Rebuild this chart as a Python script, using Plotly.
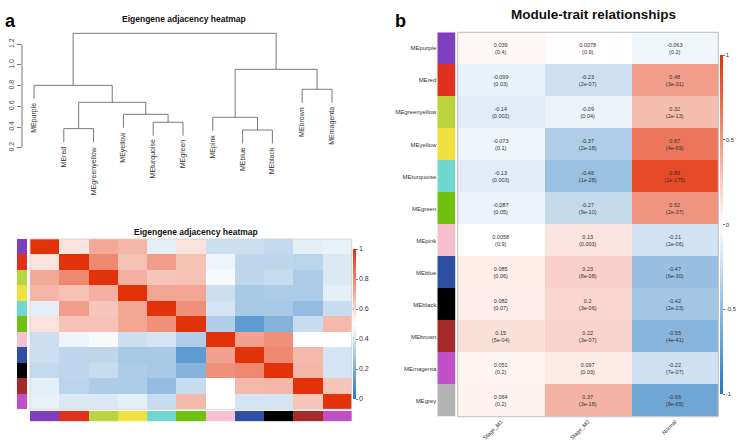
import plotly.graph_objects as go

W, H = 746, 446


def px(x):
    return x / W


def py(y):
    return 1 - y / H


FONT = "Liberation Sans"

# ---------------- data ----------------
modules = ["MEpurple", "MEred", "MEgreenyellow", "MEyellow", "MEturquoise", "MEgreen",
           "MEpink", "MEblue", "MEblack", "MEbrown", "MEmagenta"]
module_colors = ["#7E3FBF", "#E0301E", "#B9D43C", "#F0E040", "#70D8D0", "#70C010",
                 "#F8C0CF", "#2E4FA3", "#000000", "#A52A2A", "#BF50C8"]

# dendrogram merges (R hclust style: negative = leaf position, positive = earlier merge)
merge_left = [-8, -2, -5, -7, -4, 2, -10, -1, 4, 8]
merge_right = [-9, -3, -6, 1, 3, 5, -11, 6, 7, 9]
merge_height = [0.371, 0.384, 0.446, 0.494, 0.523, 0.639, 0.765, 0.803, 0.958, 1.306]
leaf_hang = 0.13
dend_ticks = [0.2, 0.4, 0.6, 0.8, 1.0, 1.2]

adjacency = [
    [1.00, 0.57, 0.71, 0.68, 0.44, 0.57, 0.38, 0.38, 0.36, 0.44, 0.45],
    [0.57, 1.00, 0.79, 0.65, 0.74, 0.65, 0.46, 0.35, 0.35, 0.34, 0.42],
    [0.71, 0.79, 1.00, 0.69, 0.64, 0.65, 0.48, 0.35, 0.37, 0.31, 0.42],
    [0.68, 0.65, 0.69, 1.00, 0.72, 0.72, 0.38, 0.30, 0.31, 0.31, 0.44],
    [0.44, 0.74, 0.64, 0.72, 1.00, 0.77, 0.40, 0.30, 0.30, 0.25, 0.37],
    [0.57, 0.65, 0.65, 0.72, 0.77, 1.00, 0.32, 0.13, 0.22, 0.37, 0.67],
    [0.38, 0.46, 0.48, 0.38, 0.40, 0.32, 1.00, 0.73, 0.77, 0.50, 0.50],
    [0.38, 0.35, 0.35, 0.30, 0.30, 0.13, 0.73, 1.00, 0.79, 0.67, 0.40],
    [0.36, 0.35, 0.37, 0.31, 0.30, 0.22, 0.77, 0.79, 1.00, 0.68, 0.40],
    [0.44, 0.34, 0.31, 0.31, 0.25, 0.37, 0.50, 0.67, 0.68, 1.00, 0.64],
    [0.45, 0.42, 0.42, 0.44, 0.37, 0.67, 0.50, 0.40, 0.40, 0.64, 1.00],
]
adj_ticks = [0, 0.2, 0.4, 0.6, 0.8, 1]

traits = ["Stage_M1", "Stage_M0", "Normal"]
trait_modules = modules + ["MEgrey"]
trait_colors = module_colors + ["#B3B3B3"]
cor_vals = [
    [0.039, 0.0078, -0.063],
    [-0.099, -0.23, 0.48],
    [-0.14, -0.09, 0.32],
    [-0.073, -0.37, 0.67],
    [-0.13, -0.46, 0.89],
    [-0.087, -0.27, 0.52],
    [0.0058, 0.13, -0.21],
    [0.085, 0.23, -0.47],
    [0.082, 0.2, -0.42],
    [0.15, 0.22, -0.55],
    [0.051, 0.097, -0.22],
    [0.064, 0.37, -0.66],
]
p_labels = [
    ["0.4", "0.9", "0.2"],
    ["0.03", "2e-07", "3e-31"],
    ["0.002", "0.04", "2e-13"],
    ["0.1", "2e-18", "4e-69"],
    ["0.003", "1e-28", "2e-175"],
    ["0.05", "9e-10", "2e-37"],
    ["0.9", "0.003", "2e-06"],
    ["0.06", "8e-08", "6e-30"],
    ["0.07", "3e-06", "2e-23"],
    ["5e-04", "3e-07", "4e-41"],
    ["0.2", "0.03", "7e-07"],
    ["0.2", "3e-18", "9e-65"],
]
cor_ticks = [-1, -0.5, 0, 0.5, 1]

# ---------------- styles ----------------
bwr = [[0.0, "#2678C1"], [0.5, "#FFFFFF"], [1.0, "#E2320A"]]


def stepped(colors):
    n = len(colors)
    cs = []
    for k, c in enumerate(colors):
        cs.append([k / n, c])
        cs.append([(k + 1) / n, c])
    return cs


fig = go.Figure()

# ---------------- dendrogram ----------------
mx, lx, ly = [], [], []
for k in range(len(merge_height)):
    h = merge_height[k]
    pts = []
    for c in (merge_left[k], merge_right[k]):
        if c < 0:
            pts.append((-c, h - leaf_hang))
        else:
            pts.append((mx[c - 1], merge_height[c - 1]))
    (x1, h1), (x2, h2) = pts
    lx += [x1, x1, x2, x2, None]
    ly += [h1, h, h, h2, None]
    mx.append((x1 + x2) / 2)

fig.add_trace(go.Scatter(x=lx, y=ly, mode="lines", line=dict(color="#6a6a6a", width=0.9),
                         xaxis="x", yaxis="y", showlegend=False, hoverinfo="skip"))

leaf_end = {}
for k in range(len(merge_height)):
    for c in (merge_left[k], merge_right[k]):
        if c < 0:
            leaf_end[-c] = merge_height[k] - leaf_hang

annotations = []
for i, name in enumerate(modules):
    annotations.append(dict(x=i + 1, y=leaf_end[i + 1], xref="x", yref="y", text=name,
                            textangle=-90, showarrow=False, xanchor="center", yanchor="top",
                            yshift=-2, font=dict(family=FONT, size=7, color="#333")))

shapes = [dict(type="line", xref="x domain", yref="y", x0=0, x1=0, y0=dend_ticks[0],
               y1=dend_ticks[-1], line=dict(color="#555", width=0.8))]

# ---------------- panel a heatmap ----------------
idx = list(range(len(modules)))
fig.add_trace(go.Heatmap(z=adjacency, x=idx, y=idx, xaxis="x2", yaxis="y2",
                         colorscale=bwr, zmin=0, zmax=1, hoverinfo="skip",
                         colorbar=dict(x=px(352.5), xanchor="left", xpad=0, ypad=0,
                                       y=py(324), yanchor="middle", lenmode="pixels", len=150,
                                       thickness=3, outlinewidth=0, ticks="outside", ticklen=2,
                                       tickcolor="#777", tickvals=adj_ticks,
                                       ticktext=[str(t) for t in adj_ticks],
                                       tickfont=dict(family=FONT, size=7, color="#333"))))
fig.add_trace(go.Heatmap(z=[[i + 0.5] for i in idx], x=[0], y=idx, xaxis="x3", yaxis="y2",
                         colorscale=stepped(module_colors), zmin=0, zmax=len(modules),
                         showscale=False, hoverinfo="skip"))
fig.add_trace(go.Heatmap(z=[[i + 0.5 for i in idx]], x=idx, y=[0], xaxis="x2", yaxis="y3",
                         colorscale=stepped(module_colors), zmin=0, zmax=len(modules),
                         showscale=False, hoverinfo="skip"))
shapes.append(dict(type="rect", xref="x2 domain", yref="y2 domain", x0=0, x1=1, y0=0, y1=1,
                   line=dict(color="#cfcfcf", width=0.8)))

# ---------------- panel b heatmap ----------------
cell_text = [[f"{c}<br>({p})" for c, p in zip(rc, rp)] for rc, rp in zip(cor_vals, p_labels)]
fig.add_trace(go.Heatmap(z=cor_vals, x=traits, y=trait_modules, xaxis="x4", yaxis="y4",
                         colorscale=bwr, zmin=-1, zmax=1, text=cell_text,
                         texttemplate="%{text}", hoverinfo="skip",
                         textfont=dict(family=FONT, size=5.5, color="#333"),
                         colorbar=dict(x=px(720.3), xanchor="left", xpad=0, ypad=0,
                                       y=py(224.5), yanchor="middle", lenmode="pixels", len=339,
                                       thickness=3, outlinewidth=0, ticks="outside", ticklen=2,
                                       tickcolor="#777", tickvals=cor_ticks,
                                       ticktext=[str(t) for t in cor_ticks],
                                       tickfont=dict(family=FONT, size=6, color="#333"))))
tidx = list(range(len(trait_modules)))
fig.add_trace(go.Heatmap(z=[[i + 0.5] for i in tidx], x=[0], y=trait_modules, xaxis="x5",
                         yaxis="y4", colorscale=stepped(trait_colors), zmin=0,
                         zmax=len(trait_modules), showscale=False, hoverinfo="skip"))
shapes.append(dict(type="rect", xref="x4 domain", yref="y4 domain", x0=0, x1=1, y0=0, y1=1,
                   line=dict(color="#bdbdbd", width=1)))

# ---------------- texts ----------------
annotations += [
    dict(x=px(3), y=py(21), xref="paper", yref="paper", text="<b>a</b>", showarrow=False,
         xanchor="left", yanchor="middle", font=dict(family=FONT, size=18, color="#000")),
    dict(x=px(393), y=py(21), xref="paper", yref="paper", text="<b>b</b>", showarrow=False,
         xanchor="left", yanchor="middle", font=dict(family=FONT, size=18, color="#000")),
    dict(x=px(184), y=py(19), xref="paper", yref="paper",
         text="<b>Eigengene adjacency heatmap</b>", showarrow=False, xanchor="center",
         yanchor="middle", font=dict(family=FONT, size=8.5, color="#111")),
    dict(x=px(196), y=py(231.5), xref="paper", yref="paper",
         text="<b>Eigengene adjacency heatmap</b>", showarrow=False, xanchor="center",
         yanchor="middle", font=dict(family=FONT, size=8.5, color="#111")),
    dict(x=px(593), y=py(15), xref="paper", yref="paper",
         text="<b>Module-trait relationships</b>", showarrow=False, xanchor="center",
         yanchor="middle", font=dict(family=FONT, size=13.5, color="#111")),
]

sp = 29.8
dx0, dx1 = 22, 350
dy0, dy1 = 28, 160
upp = 1.0 / 103.4
fig.update_layout(
    width=W, height=H, margin=dict(l=0, r=0, t=0, b=0),
    paper_bgcolor="white", plot_bgcolor="white",
    font=dict(family=FONT, color="#333"),
    showlegend=False,
    xaxis=dict(domain=[px(dx0), px(dx1)], range=[1 - (34 - dx0) / sp, 1 + (dx1 - 34) / sp],
               visible=False, anchor="y"),
    yaxis=dict(domain=[py(dy1), py(dy0)],
               range=[0.2 - (dy1 - 147.7) * upp, 0.2 + (147.7 - dy0) * upp],
               anchor="x", showgrid=False, zeroline=False, showline=False,
               ticks="outside", ticklen=4, tickcolor="#555", tickwidth=0.8,
               tickvals=dend_ticks, ticktext=[f"{t:.1f}" for t in dend_ticks],
               tickangle=-90, tickfont=dict(family=FONT, size=7, color="#444")),
    xaxis2=dict(domain=[px(30), px(351.7)], anchor="y2", visible=False),
    yaxis2=dict(domain=[py(409.3), py(239)], anchor="x2", visible=False, autorange="reversed"),
    xaxis3=dict(domain=[px(17), px(27)], anchor="y2", visible=False),
    yaxis3=dict(domain=[py(421.3), py(410.7)], anchor="x2", visible=False),
    xaxis4=dict(domain=[px(457.7), px(718.3)], anchor="y4", showgrid=False, zeroline=False,
                ticks="", tickangle=-45, tickfont=dict(family=FONT, size=5.5, color="#333")),
    yaxis4=dict(domain=[py(416.7), py(32.3)], anchor="x5", autorange="reversed",
                showgrid=False, zeroline=False, ticks="",
                tickfont=dict(family=FONT, size=6, color="#333")),
    xaxis5=dict(domain=[px(437.3), px(455.7)], anchor="y4", visible=False),
    annotations=annotations,
    shapes=shapes,
)

fig.write_html("out.html", config={"displayModeBar": False, "staticPlot": True},
               post_script="document.body.style.margin='0';document.body.style.overflow='hidden';")
